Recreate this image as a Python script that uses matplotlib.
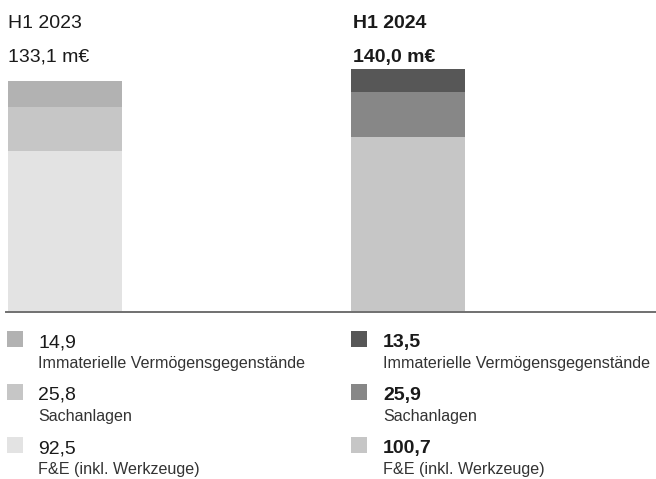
import matplotlib.pyplot as plt
import numpy as np
from matplotlib.patches import Rectangle

plt.rcParams['font.family'] = ['Liberation Sans', 'DejaVu Sans']

periods = ['H1 2023', 'H1 2024']
totals = ['133,1 m€', '140,0 m€']
# stack order bottom -> top
categories = ['F&E (inkl. Werkzeuge)', 'Sachanlagen', 'Immaterielle Vermögensgegenstände']
values_2023 = [92.5, 25.8, 14.9]
values_2024 = [100.7, 25.9, 13.5]
labels_2023 = ['92,5', '25,8', '14,9']
labels_2024 = ['100,7', '25,9', '13,5']
colors_2023 = ['#e3e3e3', '#c6c6c6', '#b2b2b2']
colors_2024 = ['#c6c6c6', '#878787', '#575757']

W, H = 656, 479
fig = plt.figure(figsize=(W / 100, H / 100), dpi=100)

# bar axes: baseline at y=312px, spans x 6..656px
base_y = 312
ax = fig.add_axes([6 / W, (H - base_y) / H, 650 / W, base_y / H])
gap = 343.0   # px between bar centres
bw = 114 / gap
ax.set_xlim(-(65 - 6) / gap, 1 + (656 - 408) / gap)
ax.set_ylim(0, base_y / (243 / 140))

x = np.arange(len(periods))
series = [values_2023, values_2024]
colors = [colors_2023, colors_2024]
for i in range(len(periods)):
    bottom = 0
    for v, c in zip(series[i], colors[i]):
        ax.bar(x[i], v, width=bw, bottom=bottom, color=c, linewidth=0)
        bottom += v

for s in ['top', 'left', 'right']:
    ax.spines[s].set_visible(False)
ax.spines['bottom'].set_color('#707070')
ax.spines['bottom'].set_linewidth(1.4)
ax.set_xticks([])
ax.set_yticks([])
ax.patch.set_alpha(0)


def ftext(px, py, s, **kw):
    fig.text(px / W, 1 - py / H, s, va='baseline', ha='left', **kw)


# headers
col_x = [8, 353]
weights = ['normal', 'bold']
for i in range(len(periods)):
    ftext(col_x[i], 28, periods[i], fontsize=14, color='#1a1a1a', fontweight=weights[i])
    ftext(col_x[i], 62, totals[i], fontsize=14, color='#1a1a1a', fontweight=weights[i])

# legends
row_y = [347, 400, 453]
sq_x = [7, 351]
txt_x = [38, 383]
val_labels = [labels_2023, labels_2024]
for i in range(len(periods)):
    for r in range(3):
        k = 2 - r
        y = row_y[r]
        fig.add_artist(Rectangle((sq_x[i] / W, 1 - y / H), 16 / W, 16 / H,
                                 transform=fig.transFigure, color=colors[i][k], linewidth=0))
        ftext(txt_x[i], y, val_labels[i][k], fontsize=14, color='#1a1a1a', fontweight=weights[i])
        ftext(txt_x[i], y + 21, categories[k], fontsize=11.6, color='#333333')

fig.savefig('out.png', dpi=100)
